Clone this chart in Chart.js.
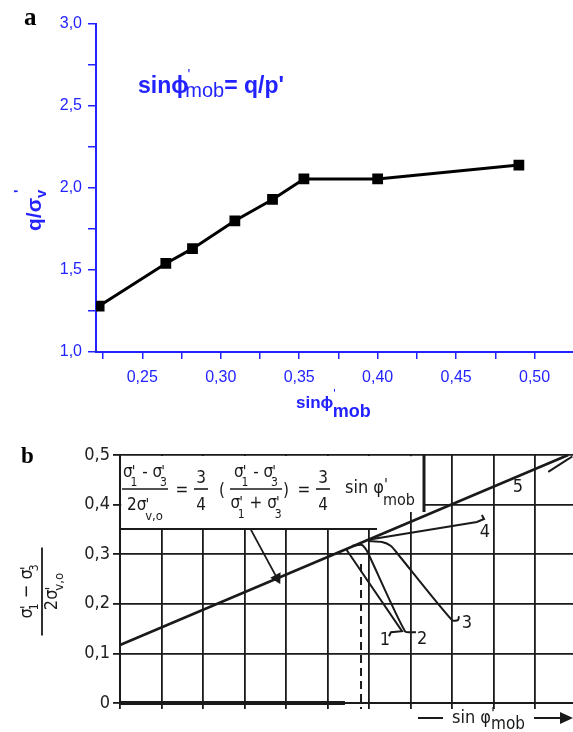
<!DOCTYPE html>
<html>
<head>
<meta charset="utf-8">
<script src="https://cdn.jsdelivr.net/npm/chart.js@4.4.1/dist/chart.umd.min.js"></script>
<style>
  html, body { margin: 0; padding: 0; background: #fff; width: 573px; height: 732px; overflow: hidden; }
  canvas { position: absolute; left: 0; }
  #chartA { top: 0; }
  #chartB { top: 430px; }
</style>
</head>
<body>
<canvas id="chartA" width="573" height="430"></canvas>
<canvas id="chartB" width="573" height="302"></canvas>
<script>
// ---- panel a data ----
const sinPhiMob = [0.2225, 0.265, 0.282, 0.309, 0.333, 0.353, 0.400, 0.490];
const qOverSigV = [1.28, 1.54, 1.63, 1.80, 1.93, 2.055, 2.055, 2.14];
const xRangeA = [0.2205, 0.5245];
const yRangeA = [1.0, 3.0];

// ---- panel b data (x in sin phi'mob, y in (s1'-s3')/2s'v,o) ----
const xRangeB = [0.10, 0.6458];
const yRangeB = [0, 0.5];
const line5X = [0.100, 0.640];
const line5Y = [0.117, 0.500];
const tail5X = [0.616, 0.630, 0.645];
const tail5Y = [0.466, 0.481, 0.497];
const curve4X = [0.399, 0.530, 0.5386, 0.536];
const curve4Y = [0.329, 0.365, 0.371, 0.379];
const curve3X = [0.399, 0.4157, 0.4265, 0.4337, 0.500, 0.5072, 0.5084];
const curve3Y = [0.3267, 0.3246, 0.3166, 0.3024, 0.167, 0.167, 0.175];
const curve1X = [0.3723, 0.4398, 0.4265, 0.4241];
const curve1Y = [0.3105, 0.1448, 0.1428, 0.1347];
const curve2X = [0.3795, 0.3916, 0.3976, 0.4434, 0.4566];
const curve2Y = [0.3166, 0.3186, 0.3065, 0.1448, 0.1428];
const dashX = [0.3904, 0.3904];
const dashY = [0.28, -0.012];
const arrowX = [0.2578, 0.2892];
const arrowY = [0.349, 0.2519];
const baseX = [0.100, 0.371];
const baseY = [0, 0];
const curveLabels = ['1', '2', '3', '4', '5'];
const curveLabelX = [0.4193, 0.4639, 0.518, 0.5398, 0.5795];
const curveLabelY = [0.127, 0.129, 0.161, 0.345, 0.434];

const BLUE = '#2323ff';
const INK = '#1a1a1a';
const SANS = '"Liberation Sans", Arial, Helvetica, sans-serif';
const HAND = '"DejaVu Sans Condensed", "DejaVu Sans", sans-serif';

const toPts = (xs, ys) => xs.map((x, i) => ({ x: x, y: ys[i] }));
const isMajor = (v, step) => Math.abs(v / step - Math.round(v / step)) < 1e-6;
const noPad = s => { s.paddingLeft = 0; s.paddingRight = 0; };

// draws a row of text pieces (sub/superscripts), returns width
function rich(ctx, parts, x, y, align, family) {
    const widths = parts.map(p => {
        ctx.font = (p.b ? 'bold ' : '') + p.s + 'px ' + family;
        return ctx.measureText(p.t).width + (p.k || 0);
    });
    const total = widths.reduce((a, b) => a + b, 0);
    let cx = align === 'center' ? x - total / 2 : x;
    ctx.textAlign = 'left';
    parts.forEach((p, i) => {
        ctx.font = (p.b ? 'bold ' : '') + p.s + 'px ' + family;
        ctx.fillText(p.t, cx + (p.k || 0), y + (p.dy || 0));
        cx += widths[i];
    });
    return total;
}

function seg(ctx, x1, y1, x2, y2, w) {
    ctx.lineWidth = w;
    ctx.beginPath();
    ctx.moveTo(x1, y1);
    ctx.lineTo(x2, y2);
    ctx.stroke();
}

// ---------------- panel a ----------------
const textA = {
    id: 'textA',
    afterDraw(chart) {
        const ctx = chart.ctx;
        ctx.save();
        ctx.fillStyle = '#000';
        ctx.font = 'bold 25px "Liberation Serif", "Times New Roman", serif';
        ctx.fillText('a', 24, 25);

        ctx.fillStyle = BLUE;
        ctx.textBaseline = 'alphabetic';
        // annotation
        rich(ctx, [
            { t: 'sinϕ', s: 23, b: true },
            { t: "'", s: 15, dy: -14, k: -1 },
            { t: 'mob', s: 20, dy: 4, k: -5 },
            { t: '= q/p\'', s: 23, b: true }
        ], 138, 93, 'left', SANS);

        // x axis title
        rich(ctx, [
            { t: 'sinϕ', s: 17, b: true },
            { t: "'", s: 13, dy: -10, k: 0 },
            { t: 'mob', s: 18, b: true, dy: 9, k: -3 }
        ], 296, 408, 'left', SANS);

        // y axis title
        ctx.translate(41, 231);
        ctx.rotate(-Math.PI / 2);
        rich(ctx, [
            { t: 'q/σ', s: 21, b: true },
            { t: 'v', s: 15, b: true, dy: 5 }
        ], 0, 0, 'left', SANS);
        ctx.font = 'bold 15px ' + SANS;
        ctx.fillText("'", 38, -17);
        ctx.restore();
    }
};

new Chart(document.getElementById('chartA'), {
    type: 'scatter',
    data: {
        datasets: [{
            data: toPts(sinPhiMob, qOverSigV),
            showLine: true,
            borderColor: '#000',
            backgroundColor: '#000',
            borderWidth: 3,
            pointStyle: 'rect',
            pointRadius: 5.5,
            pointHoverRadius: 5.5
        }]
    },
    options: {
        responsive: false,
        animation: false,
        devicePixelRatio: 1,
        layout: { autoPadding: false, padding: { top: 24, left: 0, right: 0, bottom: 0 } },
        plugins: { legend: { display: false }, tooltip: { enabled: false } },
        scales: {
            x: {
                type: 'linear',
                min: xRangeA[0],
                max: xRangeA[1],
                afterFit: s => { s.height = 78; noPad(s); },
                border: { color: BLUE, width: 2 },
                grid: { drawOnChartArea: false, drawTicks: true, tickLength: 7, color: BLUE, lineWidth: 1.5 },
                ticks: {
                    stepSize: 0.025,
                    includeBounds: false,
                    autoSkip: false,
                    maxRotation: 0,
                    padding: 9,
                    color: BLUE,
                    font: { family: SANS, size: 16 },
                    callback: v => isMajor(v, 0.05) ? v.toFixed(2).replace('.', ',') : ''
                }
            },
            y: {
                type: 'linear',
                min: yRangeA[0],
                max: yRangeA[1],
                afterFit: s => { s.width = 96; },
                border: { color: BLUE, width: 2 },
                grid: { drawOnChartArea: false, drawTicks: true, tickLength: 8, color: BLUE, lineWidth: 1.5 },
                ticks: {
                    stepSize: 0.25,
                    autoSkip: false,
                    padding: 6,
                    color: BLUE,
                    font: { family: SANS, size: 16 },
                    callback: v => isMajor(v, 0.5) ? v.toFixed(1).replace('.', ',') : ''
                }
            }
        }
    },
    plugins: [textA]
});

// ---------------- panel b ----------------
const boxB = {
    id: 'boxB',
    beforeDatasetsDraw(chart) {
        const ctx = chart.ctx, a = chart.chartArea;
        ctx.save();
        ctx.fillStyle = '#fff';
        ctx.fillRect(a.left + 1.5, a.top + 1.2, 424 - a.left - 1.5, 82 - a.top - 1.2);
        ctx.fillRect(a.left + 1.5, a.top + 1.2, 377 - a.left - 1.5, 99 - a.top - 1.2);
        ctx.strokeStyle = INK;
        seg(ctx, a.left - 1, 99, 377, 99, 2);
        seg(ctx, 424, a.top - 1, 424, 82, 3);
        ctx.restore();
    },
    afterDraw(chart) {
        const ctx = chart.ctx;
        const sx = chart.scales.x, sy = chart.scales.y;
        ctx.save();
        ctx.fillStyle = '#000';
        ctx.font = 'bold 23px "Liberation Serif", "Times New Roman", serif';
        ctx.fillText('b', 21, 33);

        ctx.fillStyle = INK;
        ctx.strokeStyle = INK;
        // formula in the box
        const num = [
            { t: 'σ', s: 17 }, { t: "'", s: 15, k: -1 }, { t: '1', s: 12, dy: 9, k: -5 },
            { t: ' - ', s: 17 },
            { t: 'σ', s: 17 }, { t: "'", s: 15, k: -1 }, { t: '3', s: 12, dy: 9, k: -5 }
        ];
        rich(ctx, num, 145, 47, 'center', HAND);
        seg(ctx, 122, 59, 168, 59, 1.6);
        rich(ctx, [{ t: '2σ', s: 17 }, { t: "'", s: 15, k: -1 }, { t: 'v,o', s: 13, dy: 10, k: -4 }], 145, 80, 'center', HAND);
        ctx.font = '17px ' + HAND;
        ctx.textAlign = 'center';
        ctx.fillText('=', 182, 65);
        ctx.fillText('3', 201, 53);
        seg(ctx, 194, 59, 208, 59, 1.6);
        ctx.fillText('4', 201, 80);
        ctx.fillText('(', 222, 66);
        rich(ctx, num, 256, 47, 'center', HAND);
        seg(ctx, 230, 59, 282, 59, 1.6);
        rich(ctx, [
            { t: 'σ', s: 17 }, { t: "'", s: 15, k: -1 }, { t: '1', s: 12, dy: 10, k: -5 },
            { t: ' + ', s: 17 },
            { t: 'σ', s: 17 }, { t: "'", s: 15, k: -1 }, { t: '3', s: 12, dy: 10, k: -5 }
        ], 256, 78, 'center', HAND);
        ctx.font = '17px ' + HAND;
        ctx.textAlign = 'center';
        ctx.fillText(')', 286, 66);
        ctx.fillText('=', 304, 65);
        ctx.fillText('3', 323, 53);
        seg(ctx, 316, 59, 330, 59, 1.6);
        ctx.fillText('4', 323, 80);
        rich(ctx, [{ t: 'sin φ', s: 18 }, { t: "'", s: 16, dy: -3 }, { t: 'mob', s: 16, dy: 12, k: -5 }], 345, 63, 'left', HAND);

        // curve labels
        ctx.font = '18px ' + HAND;
        ctx.textAlign = 'center';
        ctx.textBaseline = 'middle';
        curveLabels.forEach((t, i) => {
            ctx.fillText(t, sx.getPixelForValue(curveLabelX[i]), sy.getPixelForValue(curveLabelY[i]));
        });
        ctx.textBaseline = 'alphabetic';

        // x axis label with arrow
        seg(ctx, 418, 288, 443, 288, 2);
        rich(ctx, [{ t: 'sin φ', s: 18 }, { t: "'", s: 16, dy: -4 }, { t: 'mob', s: 17, dy: 6, k: -4 }], 452, 293, 'left', HAND);
        seg(ctx, 534, 288, 562, 288, 2);
        ctx.beginPath();
        ctx.moveTo(573, 288);
        ctx.lineTo(560, 282);
        ctx.lineTo(560, 294);
        ctx.closePath();
        ctx.fill();

        // y axis title (fraction, rotated)
        ctx.translate(42, 161.5);
        ctx.rotate(-Math.PI / 2);
        rich(ctx, [
            { t: 'σ', s: 18 }, { t: "'", s: 16, k: -1 }, { t: '1', s: 12, dy: 6, k: -5 },
            { t: ' − ', s: 18 },
            { t: 'σ', s: 18 }, { t: "'", s: 16, k: -1 }, { t: '3', s: 12, dy: 6, k: -5 }
        ], 0, -10, 'center', HAND);
        seg(ctx, -44, 0, 44, 0, 1.8);
        rich(ctx, [{ t: '2σ', s: 18 }, { t: "'", s: 16, k: -1 }, { t: 'v,o', s: 13, dy: 6, k: -4 }], 0, 15, 'center', HAND);
        ctx.restore();
    }
};

const lineSet = (xs, ys, extra) => Object.assign({
    data: toPts(xs, ys),
    showLine: true,
    borderColor: INK,
    backgroundColor: INK,
    borderWidth: 2,
    pointRadius: 0,
    pointHoverRadius: 0,
    fill: false,
    clip: false
}, extra || {});

new Chart(document.getElementById('chartB'), {
    type: 'scatter',
    data: {
        datasets: [
            lineSet(line5X, line5Y, { borderWidth: 2.6 }),
            lineSet(tail5X, tail5Y, { tension: 0.3 }),
            lineSet(curve4X, curve4Y),
            lineSet(curve3X, curve3Y, { tension: 0.25 }),
            lineSet(curve1X, curve1Y),
            lineSet(curve2X, curve2Y, { tension: 0.2 }),
            lineSet(dashX, dashY, { borderDash: [8, 5], borderWidth: 2 }),
            lineSet(arrowX, arrowY, { borderWidth: 1.8, pointStyle: 'triangle', pointRadius: [0, 5], pointRotation: 151.6 }),
            lineSet(baseX, baseY, { borderWidth: 4 })
        ]
    },
    options: {
        responsive: false,
        animation: false,
        devicePixelRatio: 1,
        layout: { autoPadding: false, padding: { top: 25, left: 0, right: 0, bottom: 0 } },
        plugins: { legend: { display: false }, tooltip: { enabled: false } },
        scales: {
            x: {
                type: 'linear',
                min: xRangeB[0],
                max: xRangeB[1],
                afterFit: s => { s.height = 29; noPad(s); },
                border: { color: INK, width: 2 },
                grid: { color: INK, lineWidth: 1.8, tickLength: 6 },
                ticks: {
                    stepSize: 0.05,
                    includeBounds: false,
                    autoSkip: false,
                    maxRotation: 0,
                    font: { size: 1 },
                    callback: () => ''
                }
            },
            y: {
                type: 'linear',
                min: yRangeB[0],
                max: yRangeB[1],
                afterFit: s => { s.width = 120; },
                border: { color: INK, width: 2 },
                grid: { color: INK, lineWidth: 1.8, tickLength: 7 },
                ticks: {
                    stepSize: 0.1,
                    autoSkip: false,
                    padding: 3,
                    color: '#222',
                    font: { family: HAND, size: 18 },
                    callback: v => v === 0 ? '0' : v.toFixed(1).replace('.', ',')
                }
            }
        }
    },
    plugins: [boxB]
});
</script>
</body>
</html>
